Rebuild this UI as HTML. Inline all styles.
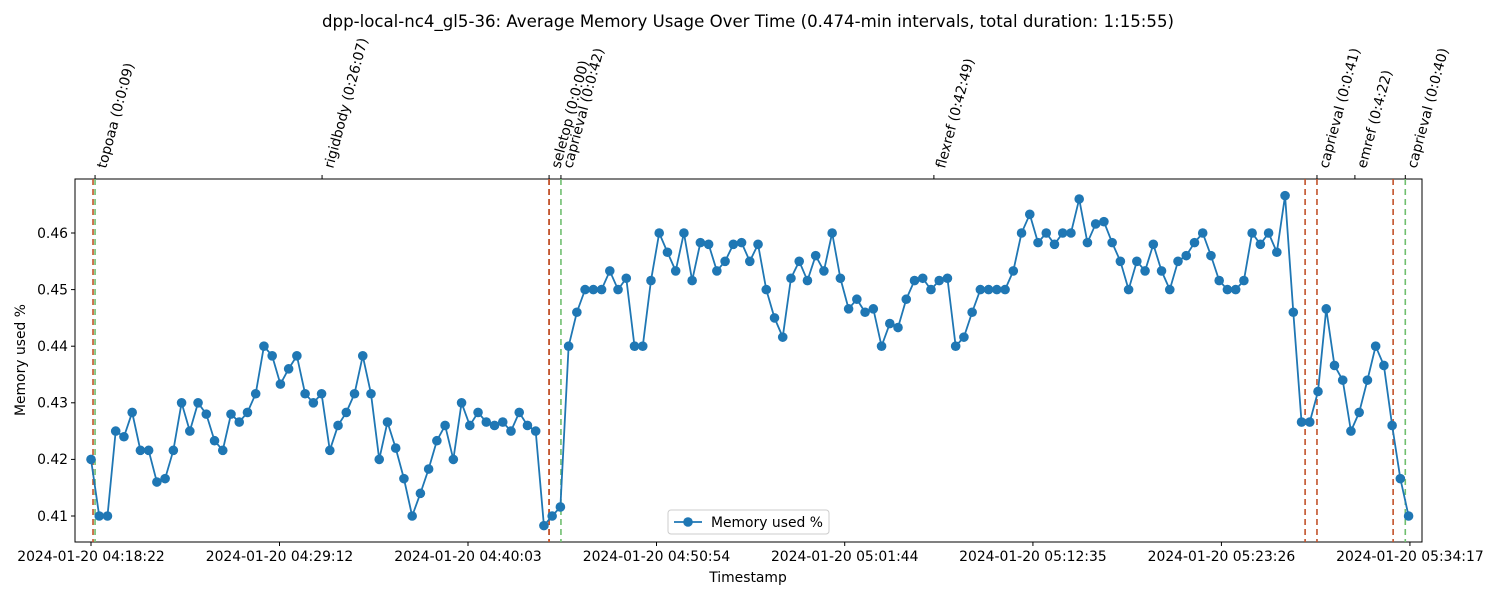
<!DOCTYPE html>
<html><head><meta charset="utf-8"><style>
body{margin:0;background:#fff;}
svg text{font-family:"DejaVu Sans","Liberation Sans",sans-serif;fill:#000;}
</style></head><body>
<svg id="chart" width="1500" height="600" xmlns="http://www.w3.org/2000/svg">
<text x="748" y="27" font-size="16.6" text-anchor="middle">dpp-local-nc4_gl5-36: Average Memory Usage Over Time (0.474-min intervals, total duration: 1:15:55)</text>
<g id="plot"></g>
</svg>
<script>
const memValues=[0.420,0.410,0.410,0.425,0.424,0.4283,0.4216,0.4216,0.416,0.4166,0.4216,0.430,0.425,0.430,0.428,0.4233,0.4216,0.428,0.4266,0.4283,
0.4316,0.440,0.4383,0.4333,0.436,0.4383,0.4316,0.430,0.4316,0.4216,0.426,0.4283,0.4316,0.4383,0.4316,0.420,0.4266,0.422,0.4166,0.410,
0.414,0.4183,0.4233,0.426,0.420,0.430,0.426,0.4283,0.4266,0.426,0.4266,0.425,0.4283,0.426,0.425,0.4083,0.410,0.4116,0.440,0.446,
0.450,0.450,0.450,0.4533,0.450,0.452,0.440,0.440,0.4516,0.460,0.4566,0.4533,0.460,0.4516,0.4583,0.458,0.4533,0.455,0.458,0.4583,
0.455,0.458,0.450,0.445,0.4416,0.452,0.455,0.4516,0.456,0.4533,0.460,0.452,0.4466,0.4483,0.446,0.4466,0.440,0.444,0.4433,0.4483,
0.4516,0.452,0.450,0.4516,0.452,0.440,0.4416,0.446,0.450,0.450,0.450,0.450,0.4533,0.460,0.4633,0.4583,0.460,0.458,0.460,0.460,
0.466,0.4583,0.4616,0.462,0.4583,0.455,0.450,0.455,0.4533,0.458,0.4533,0.450,0.455,0.456,0.4583,0.460,0.456,0.4516,0.450,0.450,
0.4516,0.460,0.458,0.460,0.4566,0.4666,0.446,0.4266,0.4266,0.432,0.4466,0.4366,0.434,0.425,0.4283,0.434,0.440,0.4366,0.426,0.4166,0.410];
const intervalSec=28.44;
const xTickSec=[0,651,1302,1953,2603,3253,3904,4555];
const xTickLabels=["2024-01-20 04:18:22","2024-01-20 04:29:12","2024-01-20 04:40:03","2024-01-20 04:50:54","2024-01-20 05:01:44","2024-01-20 05:12:35","2024-01-20 05:23:26","2024-01-20 05:34:17"];
const yTicks=[0.41,0.42,0.43,0.44,0.45,0.46];
const stepLabels=["topoaa (0:0:09)","rigidbody (0:26:07)","seletop (0:0:00)","caprieval (0:0:42)","flexref (0:42:49)","caprieval (0:0:41)","emref (0:4:22)","caprieval (0:0:40)"];
const stepLabelSec=[14,798,1582,1623,2911,4234,4365,4539];
const startLineSec=[7,1582,1582,4193,4234,4497];
const endLineSec=[14,1623,4539];

const L=75,R=1422,T=179,B=542;
const x=s=>91+s*(188.5/651);
const y=v=>516-(v-0.41)*5660;
const NS="http://www.w3.org/2000/svg";
const g=document.getElementById('plot');
function mk(tag,attrs,parent){const e=document.createElementNS(NS,tag);for(const k in attrs)e.setAttribute(k,attrs[k]);(parent||g).appendChild(e);return e;}

let fr=mk('rect',{x:L,y:T,width:R-L,height:B-T,fill:'none',stroke:'#000','stroke-width':1});



yTicks.forEach(v=>{
 const yy=y(v);
 const t=mk('line',{x1:L-4,x2:L,y1:yy,y2:yy,stroke:'#000'});
 
 
 const tx=mk('text',{x:L-7,y:yy+4.8,'font-size':13.9,'text-anchor':'end'});
 tx.textContent=v.toFixed(2);
 
 
});
xTickSec.forEach((s,i)=>{
 const xx=x(s);
 const t=mk('line',{x1:xx,x2:xx,y1:B,y2:B+4,stroke:'#000'});
 
 
 const tx=mk('text',{x:xx,y:B+19,'font-size':13.9,'text-anchor':'middle'});
 tx.textContent=xTickLabels[i];
 
 
});
stepLabelSec.forEach((s,i)=>{
 const xx=x(s);
 const t=mk('line',{x1:xx,x2:xx,y1:T-4,y2:T,stroke:'#000'});
 
 
 const tx=mk('text',{x:0,y:0,'font-size':13.9,transform:`translate(${xx+11},${T-10}) rotate(-75)`});
 tx.textContent=stepLabels[i];
 
 
});
endLineSec.forEach(s=>{
 const l=mk('line',{x1:x(s),x2:x(s),y1:T,y2:B,stroke:'#6fbf6f','stroke-width':1.6,'stroke-dasharray':'6,4'});
 
 
});
startLineSec.forEach(s=>{
 const l=mk('line',{x1:x(s),x2:x(s),y1:T,y2:B,stroke:'#c2522a','stroke-width':1.6,'stroke-dasharray':'6,4'});
 
 
});
const pts=memValues.map((v,i)=>[x(i*intervalSec),y(v)]);
const pl=mk('polyline',{points:pts.map(p=>p.join(',')).join(' '),fill:'none',stroke:'#1f77b4','stroke-width':1.8});


pts.forEach(p=>{
 const c=mk('circle',{cx:p[0],cy:p[1],r:4.8,fill:'#1f77b4'});
 
 
});
const xt=mk('text',{x:748,y:582,'font-size':13.9,'text-anchor':'middle'});
xt.textContent='Timestamp';


const yt=mk('text',{x:0,y:0,'font-size':13.9,'text-anchor':'middle',transform:'translate(25,360) rotate(-90)'});
yt.textContent='Memory used %';


const lg=mk('g',{});


mk('rect',{x:668,y:510,width:161,height:24,rx:3,fill:'#fff','fill-opacity':0.8,stroke:'#ccc'},lg);
mk('line',{x1:674,x2:702,y1:522,y2:522,stroke:'#1f77b4','stroke-width':1.8},lg);
mk('circle',{cx:688,cy:522,r:4.8,fill:'#1f77b4'},lg);
const lt=mk('text',{x:711,y:527,'font-size':13.9},lg);
lt.textContent='Memory used %';


</script>
</body></html>
